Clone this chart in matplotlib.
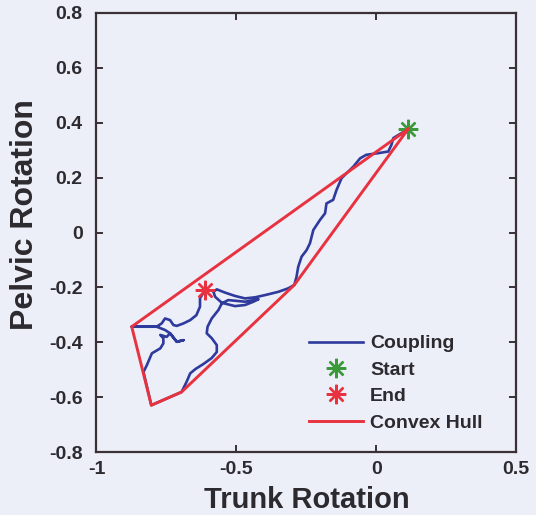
import numpy as np
import matplotlib
matplotlib.use('Agg')
import matplotlib.pyplot as plt

## 数据
trunk = [0.114, 0.061, 0.054, 0.043, 0.007, -0.036, -0.058, -0.082, -0.124, -0.142,
         -0.154, -0.178, -0.183, -0.201, -0.225, -0.237, -0.249, -0.267, -0.279, -0.285,
         -0.293, -0.314, -0.350, -0.398, -0.433, -0.469, -0.505, -0.540, -0.570, -0.582,
         -0.576, -0.552, -0.505, -0.469, -0.439, -0.421, -0.469, -0.529, -0.552, -0.564,
         -0.588, -0.603, -0.606, -0.588, -0.570, -0.570, -0.588, -0.618, -0.646, -0.665,
         -0.678, -0.696, -0.804, -0.832, -0.820, -0.802, -0.772, -0.761, -0.761, -0.772,
         -0.749, -0.737, -0.713, -0.689, -0.713, -0.737, -0.755, -0.785, -0.874, -0.785,
         -0.767, -0.755, -0.737, -0.725, -0.713, -0.689, -0.665, -0.643, -0.630, -0.630,
         -0.618, -0.612]
pelvic = [0.377, 0.344, 0.319, 0.295, 0.289, 0.283, 0.270, 0.240, 0.198, 0.155,
          0.119, 0.106, 0.070, 0.046, 0.009, -0.039, -0.064, -0.088, -0.125, -0.161,
          -0.191, -0.203, -0.216, -0.228, -0.236, -0.240, -0.231, -0.219, -0.207, -0.216,
          -0.234, -0.256, -0.268, -0.264, -0.252, -0.243, -0.252, -0.246, -0.258, -0.282,
          -0.313, -0.343, -0.367, -0.385, -0.410, -0.435, -0.457, -0.479, -0.497, -0.513,
          -0.544, -0.581, -0.629, -0.508, -0.483, -0.440, -0.422, -0.404, -0.385, -0.373,
          -0.380, -0.367, -0.398, -0.392, -0.398, -0.367, -0.355, -0.343, -0.343, -0.343,
          -0.331, -0.313, -0.319, -0.337, -0.340, -0.331, -0.319, -0.301, -0.270, -0.239,
          -0.220, -0.209]

# 凸包顶点
hull_x = [0.114, -0.874, -0.804, -0.696, -0.293, 0.114]
hull_y = [0.377, -0.343, -0.629, -0.581, -0.191, 0.377]

xticks = [-1, -0.5, 0, 0.5]
yticks = [-0.8, -0.6, -0.4, -0.2, 0, 0.2, 0.4, 0.6, 0.8]

## 绘图
plt.rcParams['font.family'] = ['Liberation Sans', 'DejaVu Sans']
plt.rcParams['font.weight'] = 'bold'
plt.rcParams['axes.unicode_minus'] = False

bg = '#eceef8'
txt = '#2c2a2e'
fig = plt.figure(figsize=(5.36, 5.15), dpi=100, facecolor=bg)
ax = fig.add_axes([0.18, 0.122, 0.783, 0.853], facecolor=bg)

ax.plot(trunk, pelvic, color='#2e3a9c', lw=1.9, label='Coupling')
ax.plot(trunk[0], pelvic[0], ls='none', marker=(8, 2, 0), ms=14, mew=1.7,
        color='#3a9a3a', label='Start')
ax.plot(trunk[-1], pelvic[-1], ls='none', marker=(8, 2, 0), ms=14, mew=1.7,
        color='#e8323f', label='End')
ax.plot(hull_x, hull_y, color='#e8323f', lw=2.1, label='Convex Hull')

ax.set_xlim(-1, 0.5)
ax.set_ylim(-0.8, 0.8)
ax.set_xticks(xticks)
ax.set_xticklabels(['-1', '-0.5', '0', '0.5'])
ax.set_yticks(yticks)
ax.set_yticklabels(['-0.8', '-0.6', '-0.4', '-0.2', '0', '0.2', '0.4', '0.6', '0.8'])
ax.tick_params(direction='in', length=5, width=1.4, color='#3a3035',
               labelsize=14, pad=6, top=True, right=True, labelcolor=txt)
ax.tick_params(axis='y', pad=10)
for s in ax.spines.values():
    s.set_linewidth(1.6)
    s.set_color('#3a3035')

ax.set_xlabel('Trunk Rotation', fontsize=21, fontweight='bold', color=txt, labelpad=6)
ax.set_ylabel('Pelvic Rotation', fontsize=23, fontweight='bold', color=txt)
ax.yaxis.set_label_coords(-0.135, 0.54)

leg = ax.legend(loc='center', bbox_to_anchor=(0.713, 0.157), frameon=False,
                fontsize=14, handlelength=2.8, handletextpad=0.35,
                labelspacing=0.45, borderpad=0)
for t in leg.get_texts():
    t.set_color(txt)
    t.set_fontweight('bold')

plt.savefig('out.png', dpi=100, facecolor=bg)
